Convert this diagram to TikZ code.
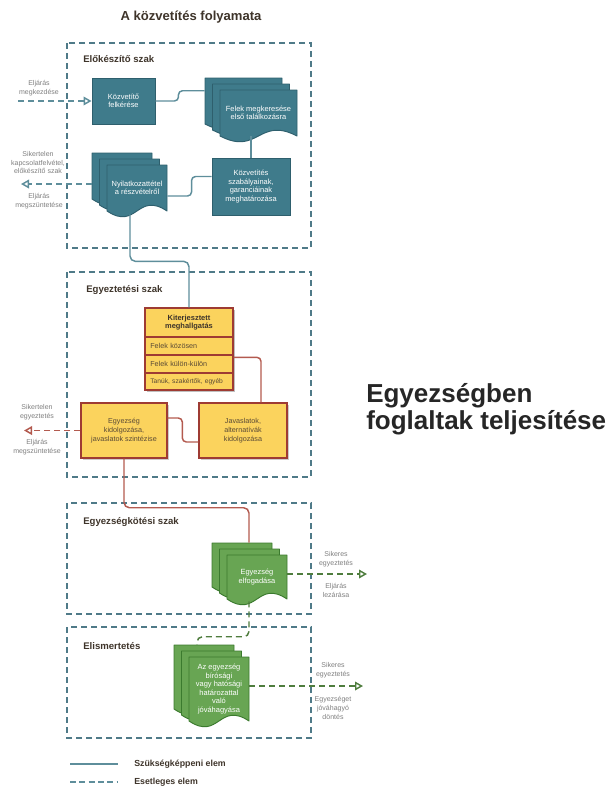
\documentclass[tikz,border=0pt]{standalone}
\usepackage{fontspec}
\setmainfont{Liberation Sans}
\usetikzlibrary{arrows.meta,calc}
\definecolor{tealfill}{HTML}{3F7B8B}
\definecolor{tealdraw}{HTML}{2E5F6D}
\definecolor{tealline}{HTML}{5E8E9B}
\definecolor{boxdash}{HTML}{4F7A88}
\definecolor{yelfill}{HTML}{FBD35D}
\definecolor{yeldraw}{HTML}{9E3B33}
\definecolor{redline}{HTML}{B35A4F}
\definecolor{grnfill}{HTML}{68A553}
\definecolor{grndraw}{HTML}{3B7A2E}
\definecolor{grnline}{HTML}{4F7D3E}
\definecolor{lblgray}{HTML}{7F7F7F}
\definecolor{brownt}{HTML}{3E342A}
\definecolor{yeltext}{HTML}{5A4A35}
\tikzset{
  sz/.style 2 args={minimum width=#1*0.75pt, minimum height=#2*0.75pt},
  phasebox/.style={draw=boxdash, line width=1.1pt, dash pattern=on 4.5pt off 3pt},
  phaselbl/.style={font=\bfseries\fontsize{7.2}{8.6}\selectfont, text=brownt, anchor=west, inner sep=0},
  smalllbl/.style={font=\fontsize{5.25}{6.7}\selectfont, text=lblgray, align=center, inner sep=0},
  tealbox/.style={fill=tealfill, draw=tealdraw, line width=0.7pt, text=white, align=center, font=\fontsize{5.6}{6.4}\selectfont, inner sep=0},
  yelbox/.style={fill=yelfill, draw=yeldraw, line width=1pt, text=yeltext, align=center, font=\fontsize{5.4}{6.5}\selectfont, inner sep=0},
  doctext/.style={text=white, align=center, font=\fontsize{5.6}{6.4}\selectfont, inner sep=0},
  conteal/.style={draw=tealline, line width=1.1pt},
  conred/.style={draw=redline, line width=1.1pt},
  dashteal/.style={draw=tealline, line width=1.1pt, dash pattern=on 4.5pt off 3pt},
  dashred/.style={draw=redline, line width=1.1pt, dash pattern=on 4.5pt off 3pt},
  dashgrn/.style={draw=grnline, line width=1.1pt, dash pattern=on 4.5pt off 3pt},
  opentip/.style={-{Triangle[open, length=6pt, width=6.5pt, sep=0pt]}},
}
\newcommand\mdoc[8]{%
  \foreach \i in {0,1,2}{%
    \pgfmathsetmacro\mdlx{#2+7.5*\i}%
    \pgfmathsetmacro\mdly{#3+6*\i}%
    \pgfmathsetmacro\mdrx{\mdlx+#4}%
    \pgfmathsetmacro\mdby{\mdly+#5}%
    \pgfmathsetmacro\mdmx{\mdlx+0.5*#4}%
    \path[fill=#6, draw=#7, line width=0.7pt, line join=round]
      (\mdlx,\mdly) -- (\mdrx,\mdly) -- (\mdrx,\mdby)
      .. controls (\mdmx,\mdby-20) and (\mdmx,\mdby+20) .. (\mdlx,\mdby) -- cycle;
  }%
  \node[inner sep=0, sz={#4}{#5}] (#1b) at ({#2+0.5*#4},{#3+0.5*#5}) {};
  \node[doctext, sz={#4}{#5}] (#1) at ({#2+15+0.5*#4},{#3+12+0.5*#5}) {#8};
}
\begin{document}
\begin{tikzpicture}[x=0.75pt, y=-0.75pt]
\useasboundingbox (0,0) rectangle (613,786);

% title
\node[font=\bfseries\fontsize{9.8}{11}\selectfont, text=brownt, inner sep=0] (title) at (191,17) {A közvetítés folyamata};

% phase boxes
\draw[phasebox] (67,43) rectangle (311,248);
\draw[phasebox] (67,272) rectangle (311,477);
\draw[phasebox] (67,503) rectangle (311,614);
\draw[phasebox] (67,627) rectangle (311,738);
\node[phaselbl] (ph1) at (83,59) {Előkészítő szak};
\node[phaselbl] (ph2) at (86,290) {Egyeztetési szak};
\node[phaselbl] (ph3) at (83,522) {Egyezségkötési szak};
\node[phaselbl] (ph4) at (83,646) {Elismertetés};

% ---- phase 1
\node[tealbox, sz={63}{46}] (kf) at (123.5,101) {Közvetítő\\felkérése};
\mdoc{felek}{205}{78}{77}{46}{tealfill}{tealdraw}{Felek megkeresése\\első találkozásra}
\node[tealbox, sz={78}{57}] (kszab) at (251,186.5) {Közvetítés\\szabályainak,\\garanciáinak\\meghatározása};
\mdoc{ny}{92}{153}{60}{46}{tealfill}{tealdraw}{Nyilatkozattétel\\a részvételről}

\coordinate (start) at (18,101);
\coordinate (ex0) at (21,184);
\draw[dashteal, opentip] (start) -- (kf.west);
\draw[dashteal, opentip] ($(nyb.west)+(0,8)$) -- (ex0);
\node[smalllbl] (l1) at (39,88) {Eljárás\\megkezdése};
\node[smalllbl] (l2) at (38,162.5) {Sikertelen\\kapcsolatfelvétel,\\előkészítő szak};
\node[smalllbl] (l3) at (39,201.5) {Eljárás\\megszüntetése};

\draw[conteal, rounded corners=3pt] (kf.east) -- ++(23,0) |- ($(felekb.north west)+(0,13)$);
\draw[conteal] (kszab.north |- felek.south) -- (kszab.north);
\draw[conteal, rounded corners=3pt] ($(kszab.west)+(0,-10)$) -- ++(-20,0) |- ($(ny.east)+(0,8)$);

% ---- phase 2
\fill[black!25] (147,310) rectangle (235,392);
\node[yelbox, sz={88}{29}, font=\bfseries\fontsize{5.6}{6.6}\selectfont, text=brownt] (kit) at (189,322.5) {Kiterjesztett\\meghallgatás};
\node[yelbox, sz={88}{18}, text width=58pt, align=left] (r1) at (189,346) {Felek közösen};
\node[yelbox, sz={88}{18}, text width=58pt, align=left] (r2) at (189,364) {Felek külön-külön};
\node[yelbox, sz={88}{17}, text width=58pt, align=left, font=\fontsize{5}{6}\selectfont] (r3) at (189,381.5) {Tanúk, szakértők, egyéb};

\draw[conteal, rounded corners=4pt] ($(ny.south)+(-7,3)$) |- ($(kit.north)+(0,-46)$) -- (kit.north);

\fill[black!20] (83,405) rectangle (169,460);
\fill[black!20] (201,405) rectangle (289,460);
\node[yelbox, sz={86}{55}] (egyk) at (124,430.5) {Egyezség\\kidolgozása,\\javaslatok szintézise};
\node[yelbox, sz={88}{55}] (jav) at (243,430.5) {Javaslatok,\\alternatívák\\kidolgozása};

\draw[conred, rounded corners=3pt] ($(r2.north east)+(0,3)$) -| ($(jav.north)+(18,0)$);
\draw[conred, rounded corners=3pt] ($(jav.west)+(0,11.5)$) -- ++(-16,0) |- ($(egyk.east)+(0,-12.5)$);

\coordinate (ex1) at (24,430.5);
\draw[dashred, opentip] (egyk.west) -- (ex1);
\node[smalllbl] (l4) at (37,412.5) {Sikertelen\\egyeztetés};
\node[smalllbl] (l5) at (37,447) {Eljárás\\megszüntetése};

% ---- phase 3
\mdoc{egyelf}{212}{543}{60}{44}{grnfill}{grndraw}{Egyezség\\elfogadása}
\draw[conred, rounded corners=4pt] (egyk.south) |- ($(egyelfb.north)+(7,-35)$) -- ($(egyelfb.north)+(7,0)$);
\coordinate (ex2) at (367,574);
\draw[dashgrn, opentip] ($(egyelf.east)+(0,-3)$) -- (ex2);
\node[smalllbl] (l6) at (336,559) {Sikeres\\egyeztetés};
\node[smalllbl] (l7) at (336,590) {Eljárás\\lezárása};

% ---- phase 4
\mdoc{azegy}{174}{645}{60}{64}{grnfill}{grndraw}{Az egyezség\\bírósági\\vagy hatósági\\határozattal\\való\\jóváhagyása}
\draw[dashgrn, rounded corners=4pt] ($(egyelf.south)+(-8,2)$) |- ($(azegyb.north)+(-7,-8)$) -- ($(azegyb.north)+(-7,0)$);
\coordinate (ex3) at (363,686);
\draw[dashgrn, opentip] ($(azegy.east)+(0,-3)$) -- (ex3);
\node[smalllbl] (l8) at (333,670) {Sikeres\\egyeztetés};
\node[smalllbl] (l9) at (333,708) {Egyezséget\\jóváhagyó\\döntés};

% big text
\node[anchor=north west, align=left, inner sep=0, font=\bfseries\fontsize{19.5}{20.3}\selectfont, text=black!85] (big) at (366,383) {Egyezségben\\foglaltak teljesítése};

% legend
\coordinate (lg1a) at (70,764);
\coordinate (lg1b) at (118,764);
\coordinate (lg2a) at (70,782);
\coordinate (lg2b) at (118,782);
\draw[conteal] (lg1a) -- (lg1b);
\draw[dashteal, dash pattern=on 4.5pt off 2.5pt] (lg2a) -- (lg2b);
\node[phaselbl, font=\bfseries\fontsize{6.6}{8}\selectfont] (lgt1) at (134,764) {Szükségképpeni elem};
\node[phaselbl, font=\bfseries\fontsize{6.6}{8}\selectfont] (lgt2) at (134,782) {Esetleges elem};
\end{tikzpicture}
\end{document}
